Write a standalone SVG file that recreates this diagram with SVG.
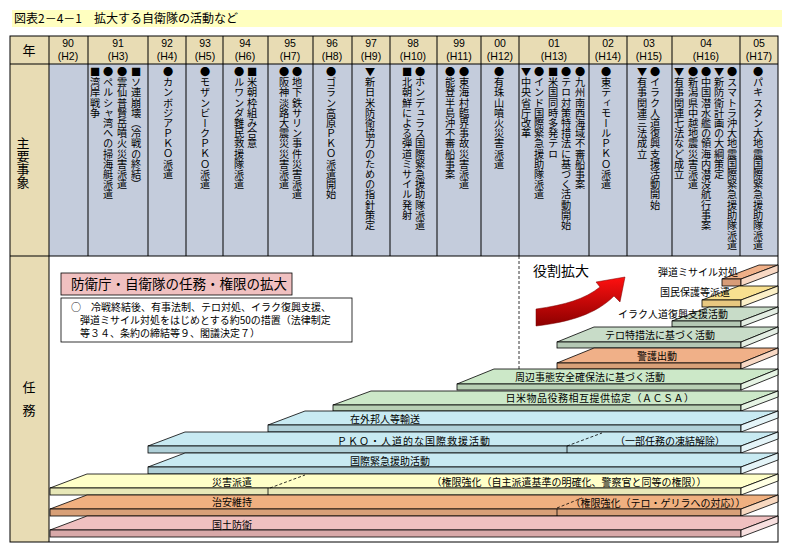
<svg xmlns="http://www.w3.org/2000/svg" width="789" height="553" viewBox="0 0 789 553">
<style>
text{font-family:"Noto Sans CJK JP","Noto Sans",sans-serif;fill:#000}
.t{font-size:12px}
.yr{font-size:10.5px;text-anchor:middle;font-family:"Liberation Sans",Arial,sans-serif}
.v{font-size:10.2px;writing-mode:vertical-rl}
.lb{font-size:10px;text-anchor:middle}
.ln{stroke:#000;stroke-width:1;fill:none}
.bar polygon,.bar rect{stroke:#000;stroke-width:0.8}
.dash{stroke:#000;stroke-width:0.8;stroke-dasharray:3,2;fill:none}
</style>
<defs>
<linearGradient id="rg" x1="0" y1="0" x2="0" y2="1">
<stop offset="0" stop-color="#ff1010"/><stop offset="1" stop-color="#8c0000"/>
</linearGradient>
</defs>
<rect x="0" y="0" width="789" height="553" fill="#fff"/>
<g id="title">
<rect x="12" y="10" width="770" height="17" fill="#FFFFC0"/>
<text class="t" x="14" y="23">図表2－4－1　拡大する自衛隊の活動など</text>
</g>
<g id="table">
<rect x="10" y="36" width="768" height="28" fill="#E8DCB4"/>
<rect x="10" y="64" width="39" height="478" fill="#E8DCB4"/>
<rect x="49" y="64" width="729" height="192" fill="#C4CCDC"/>
<rect x="10" y="36" width="768" height="506" class="ln"/>
<line x1="49" y1="36" x2="49" y2="542" class="ln"/>
<line x1="10" y1="64" x2="778" y2="64" class="ln"/>
<line x1="10" y1="256" x2="778" y2="256" class="ln"/>
<path class="ln" d="M88,36V256M148,36V256M186,36V256M223,36V256M268,36V256M313,36V256M352,36V256M390,36V256M437,36V256M481,36V256M519,36V256M589,36V256M627,36V256M672,36V256M740,36V256"/>
<line x1="519" y1="256" x2="519" y2="369" class="dash"/>
<text x="29" y="55" font-size="13" text-anchor="middle">年</text>
<text x="23" y="137" font-size="13" style="writing-mode:vertical-rl">主要事象</text>
<text x="29" y="392" font-size="13" text-anchor="middle">任</text>
<text x="29" y="415" font-size="13" text-anchor="middle">務</text>
</g>
<g id="years">
<text class="yr" x="68" y="47">90</text><text class="yr" x="68" y="60">(H2)</text>
<text class="yr" x="118" y="47">91</text><text class="yr" x="118" y="60">(H3)</text>
<text class="yr" x="167" y="47">92</text><text class="yr" x="167" y="60">(H4)</text>
<text class="yr" x="205" y="47">93</text><text class="yr" x="205" y="60">(H5)</text>
<text class="yr" x="245" y="47">94</text><text class="yr" x="245" y="60">(H6)</text>
<text class="yr" x="290" y="47">95</text><text class="yr" x="290" y="60">(H7)</text>
<text class="yr" x="332" y="47">96</text><text class="yr" x="332" y="60">(H8)</text>
<text class="yr" x="371" y="47">97</text><text class="yr" x="371" y="60">(H9)</text>
<text class="yr" x="413" y="47">98</text><text class="yr" x="413" y="60">(H10)</text>
<text class="yr" x="459" y="47">99</text><text class="yr" x="459" y="60">(H11)</text>
<text class="yr" x="500" y="47">00</text><text class="yr" x="500" y="60">(H12)</text>
<text class="yr" x="554" y="47">01</text><text class="yr" x="554" y="60">(H13)</text>
<text class="yr" x="608" y="47">02</text><text class="yr" x="608" y="60">(H14)</text>
<text class="yr" x="649" y="47">03</text><text class="yr" x="649" y="60">(H15)</text>
<text class="yr" x="706" y="47">04</text><text class="yr" x="706" y="60">(H16)</text>
<text class="yr" x="759" y="47">05</text><text class="yr" x="759" y="60">(H17)</text>
</g>
<g id="events">
<text class="v" x="95" y="67">■湾岸戦争</text>
<text class="v" x="108" y="67">●ペルシャ湾への掃海艇派遣</text>
<text class="v" x="122" y="67">●雲仙普賢岳噴火災害派遣</text>
<text class="v" x="136" y="67">■ソ連崩壊（冷戦の終結）</text>
<text class="v" x="168" y="67">●カンボジアＰＫＯ派遣</text>
<text class="v" x="205" y="67">●モザンビークＰＫＯ派遣</text>
<text class="v" x="239" y="67">●ルワンダ難民救援隊派遣</text>
<text class="v" x="252" y="67">■米朝枠組み合意</text>
<text class="v" x="284" y="67">●阪神淡路大震災災害派遣</text>
<text class="v" x="297" y="67">●地下鉄サリン事件災害派遣</text>
<text class="v" x="331" y="67">●ゴラン高原ＰＫＯ派遣開始</text>
<text class="v" x="370" y="67">▼新日米防衛協力のための指針策定</text>
<text class="v" x="407" y="67">■北朝鮮による弾道ミサイル発射</text>
<text class="v" x="420" y="67">●ホンデュラス国際緊急援助隊派遣</text>
<text class="v" x="450" y="67">●能登半島沖不審船事案</text>
<text class="v" x="464" y="67">●東海村臨界事故災害派遣</text>
<text class="v" x="499" y="67">●有珠山噴火災害派遣</text>
<text class="v" x="526" y="67">▼中央省庁改革</text>
<text class="v" x="539" y="67">●インド国際緊急援助隊派遣</text>
<text class="v" x="553" y="67">■米国同時多発テロ</text>
<text class="v" x="566" y="67">●テロ対策特措法に基づく活動開始</text>
<text class="v" x="580" y="67">●九州南西海域不審船事案</text>
<text class="v" x="606" y="67">●東ティモールＰＫＯ派遣</text>
<text class="v" x="642" y="67">▼有事関連三法成立</text>
<text class="v" x="655" y="67">●イラク人道復興支援活動開始</text>
<text class="v" x="679" y="67">▼有事関連七法など成立</text>
<text class="v" x="693" y="67">●新潟県中越地震災害派遣</text>
<text class="v" x="706" y="67">●中国潜水艦の領海内潜没航行事案</text>
<text class="v" x="719" y="67">▼新防衛計画の大綱策定</text>
<text class="v" x="732" y="67">●スマトラ沖大地震国際緊急援助隊派遣</text>
<text class="v" x="758" y="67">●パキスタン大地震国際緊急援助隊派遣</text>
</g>
<g id="connectors">
<path d="M536,309 C565,305 585,299 600,287 L596,282 L625,277 L620,302 L614,296 C596,314 570,322 536,326 Z" fill="url(#rg)" stroke="#700" stroke-width="0.5"/>
</g>
<g id="bar-missile" class="bar">
<polygon points="722,279 759,265 778,265 741,279" fill="#F0B088"/><rect x="722" y="279" width="19" height="7" fill="#D89C78"/><polygon points="741,279 778,265 778,272 741,286" fill="#F8D8C4"/>
</g>
<g id="bar-kokumin" class="bar">
<polygon points="702,300 739,286 778,286 741,300" fill="#F8E090"/><rect x="702" y="300" width="39" height="7" fill="#E8C880"/><polygon points="741,300 778,286 778,293 741,307" fill="#FCF0C8"/>
</g>
<g id="bar-iraq" class="bar">
<polygon points="672,321 709,307 778,307 741,321" fill="#C8DCC8"/><rect x="672" y="321" width="69" height="6" fill="#B4C8B4"/><polygon points="741,321 778,307 778,313 741,327" fill="#E4EEE4"/>
</g>
<g id="bar-tero" class="bar">
<polygon points="557,342 594,327 778,327 741,342" fill="#C8DCC8"/><rect x="557" y="342" width="184" height="6" fill="#B4C8B4"/><polygon points="741,342 778,327 778,333 741,348" fill="#E4EEE4"/>
</g>
<g id="bar-keigo" class="bar">
<polygon points="557,363 594,348 778,348 741,363" fill="#F0B088"/><rect x="557" y="363" width="184" height="6" fill="#D8A078"/><polygon points="741,363 778,348 778,354 741,369" fill="#F8D8C4"/>
</g>
<g id="bar-shuhen" class="bar">
<polygon points="457,384 494,369 778,369 741,384" fill="#CCE8C8"/><rect x="457" y="384" width="284" height="6" fill="#B8D0B4"/><polygon points="741,384 778,369 778,375 741,390" fill="#E6F4E4"/>
</g>
<g id="bar-acsa" class="bar">
<polygon points="333,405 371,391 778,391 741,405" fill="#CCE8C8"/><rect x="333" y="405" width="408" height="6" fill="#B8D0B4"/><polygon points="741,405 778,391 778,397 741,411" fill="#E6F4E4"/>
</g>
<g id="bar-zaigai" class="bar">
<polygon points="268,425 305,411 778,411 741,425" fill="#C8EAF2"/><rect x="268" y="425" width="473" height="7" fill="#B0D0D8"/><polygon points="741,425 778,411 778,418 741,432" fill="#E4F4F8"/>
</g>
<g id="bar-pko" class="bar">
<polygon points="148,446 185,432 778,432 741,446" fill="#C8EAF2"/><rect x="148" y="446" width="593" height="7" fill="#B0D0D8"/><polygon points="741,446 778,432 778,439 741,453" fill="#E4F4F8"/>
<line x1="567" y1="446" x2="567" y2="453" stroke="#000" stroke-width="0.8"/><line x1="567" y1="446" x2="602" y2="433" class="dash"/>
</g>
<g id="bar-kinkyu" class="bar">
<polygon points="148,467 185,453 778,453 741,467" fill="#C8EAF2"/><rect x="148" y="467" width="593" height="7" fill="#B0D0D8"/><polygon points="741,467 778,453 778,460 741,474" fill="#E4F4F8"/>
</g>
<g id="bar-saigai" class="bar">
<polygon points="50,488 87,474 778,474 741,488" fill="#FFFFC8"/><rect x="50" y="488" width="691" height="7" fill="#E8E8B8"/><polygon points="741,488 778,474 778,481 741,495" fill="#FFFFE4"/>
<line x1="268" y1="488" x2="268" y2="495" stroke="#000" stroke-width="0.8"/><line x1="270" y1="488" x2="305" y2="475" class="dash"/>
</g>
<g id="bar-chian" class="bar">
<polygon points="50,509 87,495 778,495 741,509" fill="#F0B080"/><rect x="50" y="509" width="691" height="7" fill="#D8A078"/><polygon points="741,509 778,495 778,502 741,516" fill="#F8D8C0"/>
<line x1="557" y1="509" x2="557" y2="516" stroke="#000" stroke-width="0.8"/><line x1="557" y1="508" x2="582" y2="498" class="dash"/>
</g>
<g id="bar-kokudo" class="bar">
<polygon points="50,530 87,516 778,516 741,530" fill="#F0C0C0"/><rect x="50" y="530" width="691" height="7" fill="#D8A8A8"/><polygon points="741,530 778,516 778,523 741,537" fill="#F8E0E0"/>
</g>
<g id="labels">
<text class="lb" x="232" y="529">国土防衛</text>
<text class="lb" x="232" y="506">治安維持</text>
<text class="lb" x="232" y="486">災害派遣</text>
<text class="lb" x="569" y="486">（権限強化（自主派遣基準の明確化、警察官と同等の権限））</text>
<text class="lb" x="658" y="507">（権限強化（テロ・ゲリラへの対応））</text>
<text class="lb" x="390" y="465">国際緊急援助活動</text>
<text class="lb" x="414" y="445" letter-spacing="1">ＰＫＯ・人道的な国際救援活動</text>
<text class="lb" x="670" y="445">（一部任務の凍結解除）</text>
<text class="lb" x="385" y="423">在外邦人等輸送</text>
<text class="lb" x="600" y="402" letter-spacing="0.5">日米物品役務相互提供協定（ＡＣＳＡ）</text>
<text class="lb" x="590" y="381">周辺事態安全確保法に基づく活動</text>
<text class="lb" x="657" y="360">警護出動</text>
<text class="lb" x="660" y="339">テロ特措法に基づく活動</text>
<text class="lb" x="673" y="318">イラク人道復興支援活動</text>
<text class="lb" x="695" y="296">国民保護等派遣</text>
<text class="lb" x="698" y="276">弾道ミサイル対処</text>
<text x="561" y="276" font-size="14" text-anchor="middle">役割拡大</text>
</g>
<g id="note">
<rect x="61" y="273" width="231" height="22" fill="#F0C0C0" stroke="#000" stroke-width="0.8"/>
<text x="71" y="289" font-size="13.5">防衛庁・自衛隊の任務・権限の拡大</text>
<rect x="61" y="298" width="291" height="44" fill="#fff" stroke="#000" stroke-width="0.8"/>
<text x="71" y="311" font-size="10">○　冷戦終結後、有事法制、テロ対処、イラク復興支援、</text>
<text x="80" y="324" font-size="10">弾道ミサイル対処をはじめとする約50の措置（法律制定</text>
<text x="80" y="337" font-size="10">等３４、条約の締結等９、閣議決定７）</text>
</g>
</svg>
